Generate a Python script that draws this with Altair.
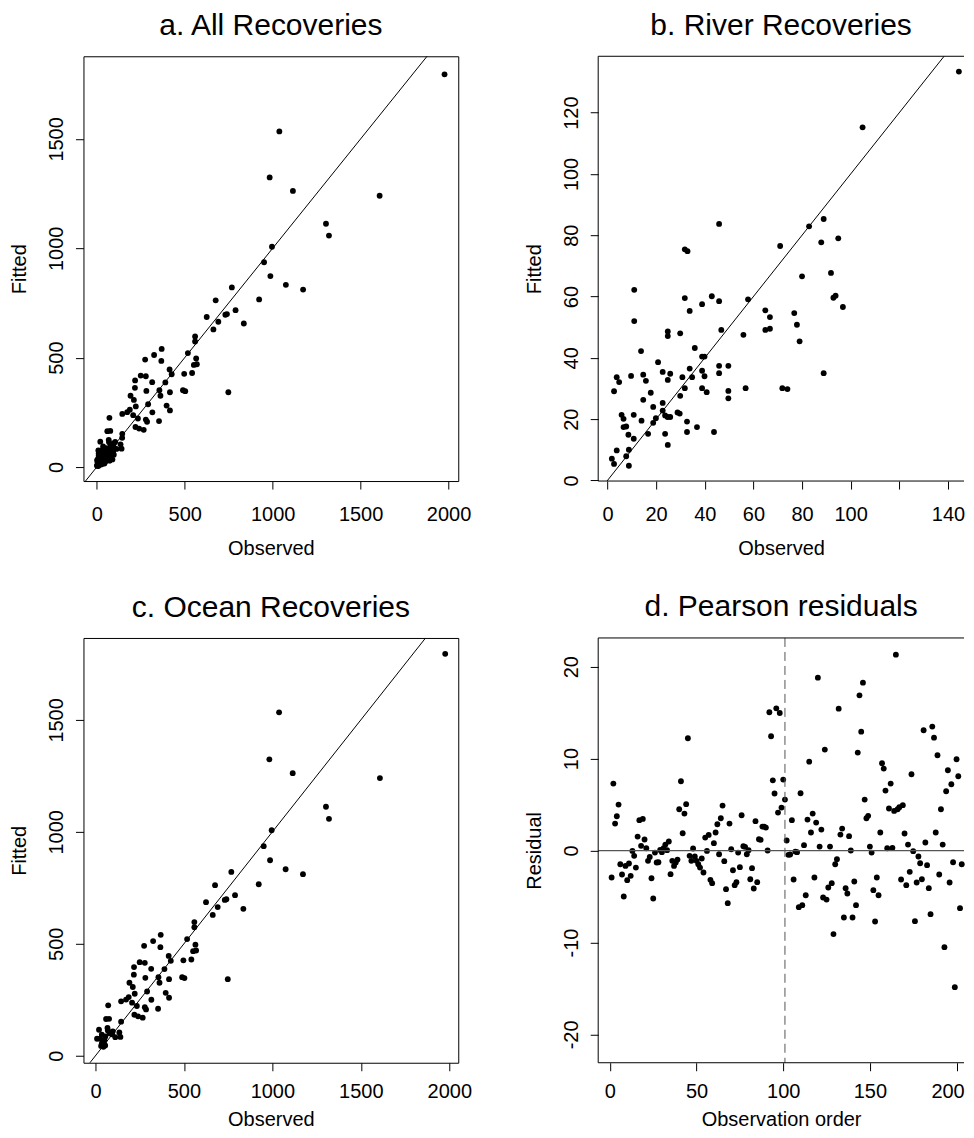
import altair as alt
import pandas as pd

FONT = "Liberation Sans"

# ---- b. River recoveries (observed, fitted) ----
river_obs = [1.8, 2.7, 2.7, 3.8, 3.8, 4.8, 5.8, 6.6, 6.6, 7.7, 7.7, 8.6, 8.8, 8.8, 9.7, 10.8, 10.8, 11.0, 11.0,
             13.8, 14.0, 14.7, 14.7, 15.8, 16.7, 17.8, 18.8, 18.8, 19.9, 20.8, 22.7, 22.7, 22.7, 23.7, 23.7, 24.7,
             24.8, 24.8, 24.8, 24.8, 25.8, 25.8, 28.8, 29.7, 29.9, 29.9, 30.8, 31.8, 31.8, 31.8, 32.9, 32.7, 32.7,
             33.8, 33.8, 34.8, 35.9, 36.8, 38.9, 38.9, 39.9, 38.9, 39.9, 38.9, 40.8, 42.9, 43.8, 45.9, 45.9, 45.9,
             45.9, 46.8, 49.7, 49.7, 49.7, 55.9, 56.8, 57.8, 64.9, 64.9, 66.8, 66.8, 71.0, 71.9, 74.0, 76.8, 77.9,
             79.0, 80.0, 82.9, 87.9, 88.9, 88.9, 91.9, 92.9, 93.8, 94.9, 96.8, 104.9, 144.5]
river_fit = [7.1, 5.4, 29.1, 9.8, 33.7, 32.1, 21.4, 20.1, 17.4, 17.6, 7.9, 14.9, 10.0, 4.8, 34.1, 13.6, 21.4, 62.2, 52.0,
             42.2, 19.5, 34.5, 26.3, 32.5, 15.2, 28.6, 24.0, 18.8, 20.3, 38.6, 35.4, 25.3, 22.8, 21.2, 15.2, 20.7,
             11.6, 32.8, 48.6, 47.1, 34.8, 20.7, 22.2, 21.8, 27.6, 48.0, 33.7, 30.1, 59.5, 75.4, 74.8, 19.2, 15.8,
             55.3, 36.5, 33.7, 43.2, 17.4, 57.5, 40.4, 40.4, 35.8, 34.0, 30.1, 28.8, 60.1, 15.8, 58.5, 83.7, 37.4,
             35.0, 49.1, 37.4, 29.2, 26.8, 47.5, 30.1, 59.1, 55.5, 49.1, 53.3, 49.5, 76.5, 30.1, 29.8, 54.6, 50.8,
             45.4, 66.6, 82.9, 77.7, 85.3, 35.0, 67.7, 59.6, 60.3, 79.0, 56.6, 115.2, 133.4]

# ---- c. Ocean recoveries (observed, fitted) ----
ocean_obs = [1977, 1038, 983, 1115, 1608, 1303, 1320, 996, 951, 987, 1075, 1173, 768, 676, 923, 789, 625, 731, 740,
             691, 663, 836, 559, 559, 518, 565, 569, 552, 542, 497, 490, 503, 748, 369, 326, 367, 275, 414, 426, 250,
             279, 218, 315, 390, 217, 356, 282, 416, 362, 192, 211, 292, 397, 222, 188, 316, 416, 145, 173, 207, 234,
             279, 286, 354, 220, 241, 267,
             20, 36, 9, 26, 51, 68, 70, 80, 94, 98, 112, 135, 141, 41, 45, 32, 36, 55, 56, 72, 77, 60, 145]
ocean_fit = [1795, 1534, 1324, 1262, 1240, 1112, 1058, 1007, 936, 873, 833, 811, 821, 762, 766, 717, 686, 696, 699,
             664, 629, 656, 597, 574, 521, 496, 470, 467, 430, 426, 351, 347, 342, 540, 512, 485, 491, 446, 424, 418,
             415, 396, 388, 387, 362, 351, 348, 342, 326, 326, 307, 287, 281, 277, 262, 250, 259, 243, 251, 237, 222,
             217, 207, 210, 183, 176, 170,
             116, 94, 76, 76, 68, 124, 113, 100, 96, 109, 83, 104, 84, 57, 40, 44, 54, 46, 86, 225, 165, 164, 152]

# ---- a. All recoveries = river + ocean ----
all_obs = river_obs + ocean_obs
all_fit = river_fit + ocean_fit

# ---- d. Pearson residuals in observation order ----
residuals = [-2.93, 7.28, 2.93, 3.73, 5.0, -1.49, -2.61, -5.0, -1.67, -3.22, -1.41, -2.75, -0.04, -0.58, -1.85, 1.52,
             3.30, 0.51, 3.44, 1.20, 0.25, -1.12, -0.69, -3.01, -5.22, -0.22, -1.30, -1.27, 0.07, -0.18, 0.25, 0.65,
             0.04, 0.98, -2.57, -1.12, -1.67, -1.30, -0.98, 4.49, 7.54, 1.88, 4.02, 5.04, 12.21, -0.58, -1.12, 0.22,
             -0.65, -1.12, -1.49, -1.85, -0.87, -2.39, 1.41, -0.04, 1.70, -3.19, -3.55, 0.80, 1.96, 2.86, -0.40,
             3.51, 4.89, -1.16, -4.20, -5.72, 2.93, 0.14, -2.14, -3.77, -3.44, -0.22, -1.81, 3.84, 0.47, 0.40, -0.40,
             0.04, -3.12, -1.92, -4.13, 3.19, -3.44, 1.23, 1.16, 2.61, 2.61, 2.50, 0.0, 15.04, 12.43, 7.64, 6.20,
             15.47, 4.13, 14.96, 4.67, 7.72, 5.54,
             1.09, -0.47, -0.43, 3.30, -3.15, -0.11, -0.18, -6.16, 6.23, -5.94, 0.58, -4.86, 3.37, 9.67, 1.96, 4.02,
             -2.93, 3.04, 18.80, 0.43, 2.28, -5.11, 10.98, -5.33, -4.02, 0.43, -3.55, -9.09, -1.49, -0.94, 15.43,
             1.74, 2.39, -7.28, -4.09, -4.67, 1.56, 0.0, -7.28, -3.37, -5.94, 10.65, 16.88, 12.93, 18.26, 5.54, 3.51,
             3.77, 0.43, -0.22, -4.31, -7.72, -2.93, -4.86, 1.96, 9.49, 8.91, 6.52, 0.25, 4.57, 7.28, 0.29, 4.31,
             21.30, 4.49, 4.71, -3.15, 4.93, 1.85, -3.77, 0.65, -2.32, 8.30, -0.07, -7.68, -3.48, -0.65, -1.38,
             -3.12, 13.08, 0.87, -1.59, -4.09, -6.92, 13.48, 12.28, 1.96, 10.36, -2.61, 4.49, 0.65, -10.51, 6.45,
             8.73, -3.48, 7.21, -1.27, -14.86, 9.93, 8.08, -6.27, -1.49]
order = list(range(1, len(residuals) + 1))
split_at = [101]
zero_line = [0]

H = 425
W_LEFT = 375
W_RIGHT = 366
PT = 34

# axis placement per row (offsets below the plot area)
ROW1 = dict(labelPadding=31.5, titleY=73)
ROW2 = dict(labelPadding=27, titleY=63)


def title(t):
    return alt.TitleParams(text=t, font=FONT, fontSize=30, fontWeight="normal", color="black",
                           anchor="middle", frame="group", offset=22, dy=31, baseline="alphabetic")


def frame_rules(width):
    one = pd.DataFrame({"k": [0]})
    top = alt.Chart(one).mark_rule(color="black", strokeWidth=1).encode(
        x=alt.value(0), x2=alt.value(width), y=alt.value(0))
    bottom = alt.Chart(one).mark_rule(color="black", strokeWidth=1).encode(
        x=alt.value(0), x2=alt.value(width), y=alt.value(H))
    left = alt.Chart(one).mark_rule(color="black", strokeWidth=1).encode(
        x=alt.value(0), y=alt.value(0), y2=alt.value(H))
    return [top, bottom, left]


def scatter(obs, fit, t, xdom, ydom, xticks, yticks, diag, width, row, fmt=None, xlabel_expr=None, open_right=False):
    df = pd.DataFrame({"Observed": obs, "Fitted": fit})
    ddf = pd.DataFrame({"Observed": diag, "Fitted": diag})
    xa = dict(values=xticks, title="Observed", **row)
    ya = dict(values=yticks, title="Fitted")
    if fmt:
        xa["format"] = fmt
        ya["format"] = fmt
    if xlabel_expr:
        xa["labelExpr"] = xlabel_expr
    x = alt.X("Observed:Q", scale=alt.Scale(domain=xdom, nice=False, zero=False), axis=alt.Axis(**xa))
    y = alt.Y("Fitted:Q", scale=alt.Scale(domain=ydom, nice=False, zero=False), axis=alt.Axis(**ya))
    pts = alt.Chart(df).mark_circle(size=PT, color="black", opacity=1).encode(x=x, y=y)
    line = alt.Chart(ddf).mark_line(color="black", strokeWidth=1, clip=True).encode(x=x, y=y)
    layers = [pts, line]
    props = dict(width=width, height=H, title=title(t))
    if open_right:
        layers += frame_rules(width)
        props["view"] = alt.ViewBackground(stroke="transparent")
    return alt.layer(*layers).properties(**props)


diag_big = [-200, 2200]
diag_small = [-20, 170]

pa = scatter(all_obs, all_fit, "a. All Recoveries", [-75.6, 2055], [-64, 1877.6],
             [0, 500, 1000, 1500, 2000], [0, 500, 1000, 1500], diag_big, W_LEFT, ROW1, fmt="d")
pb = scatter(river_obs, river_fit, "b. River Recoveries", [-3.82, 146.6], [-0.2, 138.4],
             [0, 20, 40, 60, 80, 100, 120, 140], [0, 20, 40, 60, 80, 100, 120], diag_small, W_RIGHT, ROW1,
             xlabel_expr="datum.value == 120 ? '' : datum.label", open_right=True)
pc = scatter(ocean_obs, ocean_fit, "c. Ocean Recoveries", [-67.8, 2050.8], [-31.3, 1866],
             [0, 500, 1000, 1500, 2000], [0, 500, 1000, 1500], diag_big, W_LEFT, ROW2, fmt="d")

rdf = pd.DataFrame({"order": order, "Residual": residuals})
xs = alt.Scale(domain=[-6.75, 204.3], nice=False, zero=False)
ys = alt.Scale(domain=[-23.08, 23.12], nice=False, zero=False)
xd = alt.X("order:Q", scale=xs,
           axis=alt.Axis(values=[0, 50, 100, 150, 200], title="Observation order",
                         labelOffset={"condition": {"test": "datum.value == 200", "value": -9}, "value": 0},
                         **ROW2))
yd = alt.Y("Residual:Q", scale=ys, axis=alt.Axis(values=[-20, -10, 0, 10, 20], title="Residual",
                                                  labelExpr="'' + datum.value"))
pts_d = alt.Chart(rdf).mark_circle(size=PT, color="black", opacity=1).encode(x=xd, y=yd)
hline = alt.Chart(pd.DataFrame({"Residual": zero_line})).mark_rule(color="#555555", strokeWidth=1.2).encode(y=yd)
vline = alt.Chart(pd.DataFrame({"order": split_at})).mark_rule(
    color="#555555", strokeWidth=1, strokeDash=[9, 5]).encode(x=xd)
pd_ = alt.layer(pts_d, hline, vline, *frame_rules(W_RIGHT)).properties(
    width=W_RIGHT, height=H, title=title("d. Pearson residuals"),
    view=alt.ViewBackground(stroke="transparent"))

chart = alt.concat(pa, pb, pc, pd_, columns=2, spacing={"row": 157, "column": 140}, bounds="flush").properties(
    padding={"left": 0.5, "top": 2, "right": 0, "bottom": 0}
).configure_view(
    stroke="black", strokeWidth=1
).configure_axis(
    grid=False, domain=False, ticks=True, tickColor="black", tickSize=8, tickWidth=1,
    labelFont=FONT, labelFontSize=20, labelColor="black", labelFlush=False, labelOverlap=False,
    titleFont=FONT, titleFontSize=20, titleFontWeight="normal", titleColor="black"
).configure_axisBottom(
    labelBaseline="alphabetic", titleBaseline="alphabetic"
).configure_axisLeft(
    labelAngle=-90, labelAlign="center", labelBaseline="alphabetic", labelPadding=13,
    titleX=-58, titleAngle=-90, titleBaseline="alphabetic"
)

chart.save("out.html", embed_options={"renderer": "svg", "actions": False})
